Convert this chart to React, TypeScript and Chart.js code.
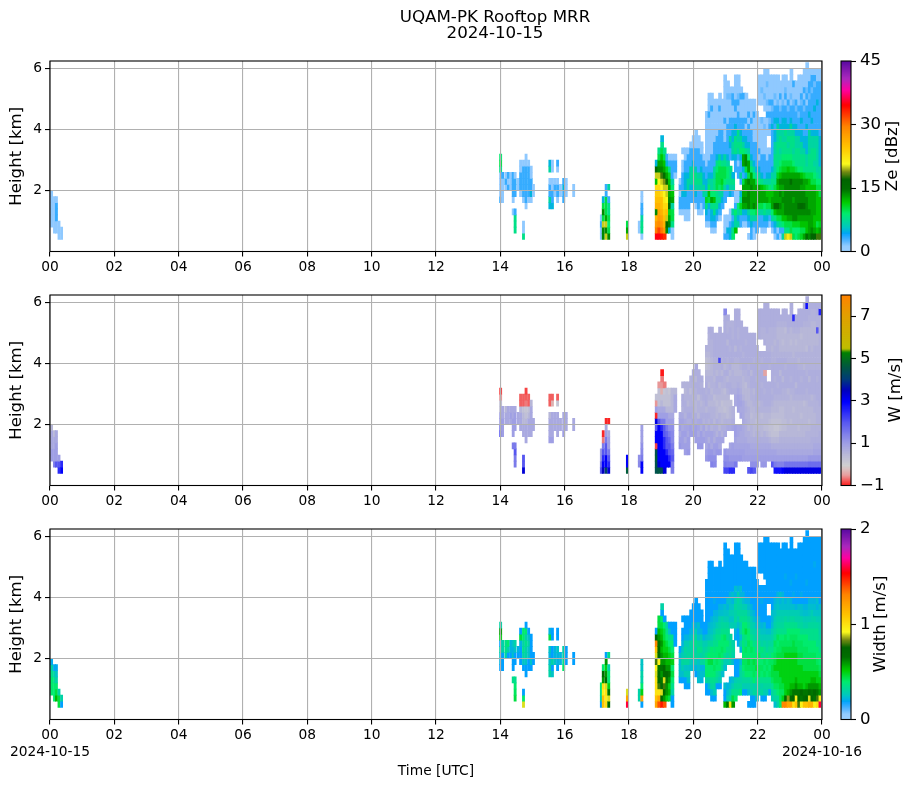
import React, { useEffect, useRef } from "react";
import { Chart, registerables } from "chart.js";

Chart.register(...registerables);

const FONT = "'DejaVu Sans'";
const GATE_BASE_KM = 0.4;
const GATE_KM = 0.2;
const SPARSE_BEFORE_HOUR = 18.7;

// time of each profile, hours UTC
const columnHours = [
  0.05, 0.14, 0.2, 0.28, 0.36,
  14.01, 14.07, 14.17, 14.25, 14.33, 14.4, 14.46, 14.56, 14.63, 14.72, 14.8, 14.88, 14.96, 15.03,
  15.54, 15.62, 15.7, 15.78, 15.87, 15.97, 16.05, 16.28,
  17.14, 17.2, 17.29, 17.37, 17.95, 18.32, 18.4,
  18.86, 18.94, 19.03, 19.11, 19.19, 19.27, 19.35, 19.44, 19.6, 19.68, 19.76, 19.85, 19.93, 20.01, 20.09, 20.17, 20.26, 20.34,
  20.42, 20.5, 20.58, 20.67, 20.75, 20.83, 20.91, 20.99, 21.08, 21.16, 21.24, 21.32, 21.41, 21.49, 21.57, 21.65, 21.73, 21.82,
  21.9, 21.98, 22.06, 22.14, 22.23, 22.31, 22.39, 22.47, 22.55, 22.64, 22.72, 22.8, 22.88, 22.96, 23.05, 23.13, 23.21, 23.29,
  23.37, 23.46, 23.54, 23.62, 23.7, 23.78, 23.87, 23.95,
];

// reflectivity per range gate, bottom gate first (dBZ), holes = no echo
const zeColumns: any[] = [
  [,,1,1,1,1,1,1],[,1,1,1,1,1,1],[,1,1,3,3,3,1],[1,1,1],[1,1],
  [,,,,,,3,1,1,1,1,8,10,9],[,,,,,,1,1,1,1,3],[,,,,,,,,1,3,1],[,,,,,,,,3,1,3],[,,,,,,,,1,1,1],[,,,,1,,1,3,3,3,3],[,8,8,8,3,,,3,3,3,1],[,,,,,,,,1,1],[,,,,,,,1,3,3,3,1,1],[8,1,1,,,,1,3,3,3,3,3,1],[,,,,,1,3,3,3,3,3,3,1,1],[,,,,,,1,3,3,3,3,3,1],[,,,,,,1,5,3,3,1,1],[,,,,,,,1,1],
  [,,,,,5,7,3,3,1,,7,5],[,,,,,5,3,3,1,1,,1,1],[,,,,,,,1,3,1],[,,,,,,1,3,3,1,,1,3],[,,,,,,,1,1],[,,,,,,3,3,5,3],[,,,,,,,1,1,1],[,,,,,,,1,1],
  [1,1,3,1],[14,14,20,10,14,10,5],[20,14,20,13,10,10,10,3,3],[14,10,9,10,8,8,3,,7],[20,13,10],[,1,1],[1,8,8,7,3,3,1,1],
  [35,30,28,26,14,26,25,24,23,12,20,16,5],
  [35,32,29,28,27,26,25,24,23,21,20,14,13,10,8],
  [34,30,28,27,26,25,25,23,21,20,18,14,13,12,10,8,5],
  [33,28,26,25,24,23,22,21,20,19,15,13,12,10,8],
  [,14,16,20,25,23,21,20,20,16,13,11,5,3],
  [,5,14,13,11,16,14,13,13,12,11,8,3,1],
  [1,1,8,10,10,7,13,12,9,7,3,3,3,1],
  [,,,,,,,,,,1,3,3,1],
  [,,,,1,3,3,1,3,1],
  [,,,,1,3,3,5,3,3,3,1,1,,1],
  [,,,1,1,3,3,5,5,5,5,3,3,1,1],
  [,,,1,1,3,3,3,7,7,5,3,3,3,1],
  [,,,,,,3,3,5,7,7,7,3,3,3,1],
  [,,,,,,3,3,5,7,8,7,5,3,3,1,1],
  [,,,,,1,3,5,7,8,8,6,3,3,3,1,1,1],
  [,,,,1,3,3,3,7,8,7,3,3,3,3,1,1],
  [,,,,1,1,3,3,7,8,7,5,3,3,1,1],
  [,,,,,3,3,7,7,5,5,3,3,1],
  [,,1,3,5,8,11,7,5,5,3,3,1,1,1,1,1,1,1,1,1],
  [,,1,3,3,5,10,12,9,7,5,3,3,1,1,1,1,1,1,1,3,1,1,1],
  [,1,3,5,5,8,13,9,7,7,5,3,3,3,1,1,1,1,1,1,1,3,1,1],
  [,1,3,5,8,8,12,9,8,8,7,7,3,3,3,3,1,1,1,1,1,1,1],
  [,,,3,5,8,8,8,10,10,10,9,8,5,3,3,3,1,1,1,1,1,1],
  [,,,1,3,5,8,7,9,10,10,10,9,7,3,3,3,3,1,1,1,3,1,1],
  [,,,,,3,5,7,10,11,10,10,8,5,3,3,3,3,1,1,1,1,1],
  [3,1,1,1,,,3,3,7,9,10,10,8,7,3,3,1,1,1,3,1,1,1,1,1,1,1],
  [3,5,1,1,,,,3,5,8,9,9,7,5,3,3,3,3,3,1,1,1,1,2,1,1],
  [5,5,3,1,1,,,5,7,8,8,8,,3,3,5,7,3,3,3,1,1,1,2,1],
  [9,8,5,3,7,,,3,7,8,5,,,5,7,7,5,5,3,3,1,1,3,3,1],
  [,12,7,7,9,3,1,1,,,,3,3,5,8,8,8,5,5,3,1,3,3,1,1,1,1],
  [,,7,5,7,9,1,1,,,3,3,1,3,7,8,7,8,3,3,3,1,3,2,1,1,1],
  [,,3,3,8,11,8,5,,3,7,3,3,5,9,8,7,5,3,3,1,1,1,3,1],
  [,,1,3,5,13,14,13,13,10,3,5,13,13,9,7,5,3,3,3,1,1,1,3],
  [,,1,3,5,13,14,13,13,13,5,10,14,14,8,5,5,3,1,3,1,1,1,1],
  [1,,3,5,7,14,14,14,13,14,10,13,13,9,7,5,3,3,3,1,3,1,1],
  [3,3,5,7,9,13,13,13,14,13,13,9,7,5,3,3,3,3,1,3,1,1,1],
  [1,1,3,7,9,14,13,13,13,13,9,7,5,3,3,3,1,1,1,1,3,1,1],
  [,3,3,7,10,13,13,13,13,10,7,5,3,3,3,3,1,1,1,1,1],
  [,,3,3,7,10,13,13,13,9,7,5,3,1,3,1,1,1,1,1,,,1,1,1,1,1],
  [,1,3,3,7,10,13,13,12,8,5,3,3,3,1,1,1,1,1,2,,,1,1,2,1,1],
  [,1,3,5,8,9,13,13,11,7,3,3,3,3,1,1,1,1,2,1,,1,1,2,1,1,1,1],
  [,,3,5,7,10,13,12,10,7,5,3,3,1,1,,,1,1,1,3,1,2,1,1,2,1,1],
  [,,1,3,7,10,12,12,9,7,5,3,3,3,1,,,1,3,2,3,1,3,1,1,1,1],
  [,1,3,7,9,13,13,12,8,8,7,5,3,3,3,3,3,3,5,3,3,2,3,1,1,1,1],
  [1,3,5,8,12,16,13,13,10,8,7,7,8,8,7,7,5,5,3,5,3,3,1,2,1,1,1],
  [3,1,7,10,13,16,13,13,12,13,11,9,8,8,8,8,7,7,7,5,3,3,2,1,1,1,1],
  [1,3,8,10,13,14,13,14,13,14,12,10,9,8,7,8,8,7,5,3,3,2,1,3,1,1],
  [7,3,9,12,13,13,14,13,13,14,13,11,10,9,8,8,7,7,5,5,3,3,2,1,1,1,1],
  [20,8,10,12,14,14,14,14,14,14,13,11,10,9,8,8,7,8,5,5,3,3,1,3,2,1,1],
  [22,8,10,13,14,14,14,14,14,14,13,12,10,9,8,7,8,7,5,3,3,2,3,1,1,1],
  [20,10,10,13,14,14,14,14,14,15,13,11,10,9,8,8,8,7,7,5,3,3,1,2,1,1,1,1],
  [10,9,11,14,14,14,13,14,14,14,13,11,9,8,7,8,8,7,5,3,3,3,2,1,1,3],
  [9,9,11,14,14,14,14,14,14,14,13,10,8,8,8,7,7,5,5,3,3,2,3,1,1,1],
  [10,9,11,13,14,15,14,14,14,14,13,9,8,8,8,7,7,5,3,3,2,3,1,1,1,1,1],
  [11,10,12,13,14,16,14,14,13,14,12,9,8,8,7,7,5,5,3,5,3,3,2,3,1,1,1],
  [13,10,12,13,14,15,14,14,13,13,11,8,8,8,7,5,5,3,3,3,3,2,3,1,3,1,1,1],
  [15,12,12,13,14,14,14,13,12,13,10,8,7,7,5,5,5,3,5,3,3,3,1,3,2,1,1,1,1],
  [14,13,13,13,14,13,13,13,12,12,10,8,8,8,7,7,7,7,3,3,5,3,3,2,3,3,1,1],
  [17,14,13,13,13,13,13,13,12,10,10,8,8,8,8,7,7,5,3,5,3,3,3,3,2,3,3,1],
  [17,13,12,12,13,13,13,13,12,10,9,8,7,8,8,7,7,5,3,3,3,5,3,3,3,2,3,1],
  [18,12,10,12,12,12,12,12,10,9,8,7,7,7,7,7,7,5,3,3,3,3,5,3,3,3,1,1],
  [18,13,11,12,12,12,12,10,10,9,7,7,5,5,5,5,5,3,3,3,3,3,3,3,3,3,1,1],
];

// mean Doppler velocity per gate (m/s)
const wColumns: any[] = [
  [,,1,1,.8,.8,.8,.5],[,1.5,1,1,.8,.8,.5],[,2,1,1,1,.8,.8],[2.5,2,1],[3,2.5],
  [,,,,,,2,1.5,1,1,.3,.3,-.5,-.8],[,,,,,,1,1,1,.8,.8],[,,,,,,,,.8,.8,.5],[,,,,,,,,.8,.8,.8],[,,,,,,,,.8,1,.8],[,,,,1.5,,1,1,1,.8,.8],[,1.5,1.5,2,1.5,,,1,1,1,.8],[,,,,,,,,.8,.8],[,,,,,,,.8,.8,.8,.5,-.7,-.7],[3.3,2,2,,,,.8,.8,.5,.5,.3,-.7,-.7],[,,,,,.8,.8,.8,.5,.3,.2,-.6,-.7,-.8],[,,,,,,.8,.8,.8,.5,.3,-.7,-.7],[,,,,,,.8,.8,.8,.8,.8,.5],[,,,,,,,.8,.8],
  [,,,,,1,.8,.8,.8,.5,,-.7,-.7],[,,,,,1,.8,.8,.8,.8,,-.3,-.7],[,,,,,,,.8,.8,.8],[,,,,,,.8,.8,.8,.8,,.2,-.7],[,,,,,,,.8,.8],[,,,,,,1,.8,.8,.8],[,,,,,,,.8,.8,.8],[,,,,,,,.8,.8],
  [2,1.5,1,1],[3.5,3,2.5,2,1.5,-.6,-.9],[4.2,3,3,2,2,1.5,1,.8,-.9],[3.3,2.5,2,1.5,1,1,.8,,-.9],[4.7,3,3],[,1.3,1.2],[3,3,1.5,1.3,1.2,1,1,1],
  [4.5,4.5,4.7,4.5,-.8,3,3,2,3.2,-.9,1,-.5,.3],
  [4.6,3.3,3,3,3,3,3,3,2,1,.8,.3,.3,.3,-.5],
  [4.4,3,3,3,3,3,3,2.5,1.5,1,.8,.5,.3,-.3,-.5,-.6,-.95],
  [3.3,3,3,3,2.5,2.5,2,2,1.5,1,.8,.3,.3,.2,-.6],
  [,3,3,2.5,2,2,1.8,1.5,1,1,.5,.3,.3,.3],
  [,3,2.5,2,2,1.8,1.5,1.2,1,.8,.5,.3,.3,.2],
  [1.5,1.5,2,1.8,1.5,1.3,1.3,1.2,1,.8,.5,.5,.5,.5],
  [,,,,,,,,,,.8,.8,.8,.5],
  [,,,,1.1,1,.8,1,.9,.8],
  [,,,,1,1,1,.8,.9,.8,.6,.7,.7,,.6],
  [,,,1,1,.8,1,.9,.8,.6,.7,.7,.6,.5,.6],
  [,,,1.1,1,1,.8,.9,.7,.8,.7,.5,.6,.6,.6],
  [,,,,,,1,1,.7,.8,.7,.6,.6,.4,.6,.6],
  [,,,,,,1,.8,.9,.6,.7,.6,.5,.6,.6,.7,.7],
  [,,,,,1,1,1,.7,.7,.5,.5,.6,.6,.7,.5,.7,.8],
  [,,,,1.1,1,.8,.9,.8,.5,.6,.6,.4,.7,.7,.7,.7],
  [,,,,1.1,1,1,.7,.8,.7,.6,.5,.6,.7,.6,.7],
  [,,,,,1,.8,.9,.6,.7,.6,.6,.7,.7],
  [,,1.1,1,.8,.9,.9,.6,.7,.7,.5,.7,.7,.6,.7,.6,.5,.3,.3,.5,.6],
  [,,1.2,1.1,1,.7,.9,.8,.6,.7,.6,.5,.6,.7,.5,.6,.5,.4,.4,.5,.6,.6,.6,.7],
  [,1.4,1.2,1.1,.8,.9,.9,.6,.7,.6,.6,.5,.6,.5,.6,.6,.5,.5,.5,.6,.6,.6,.7,.7],
  [,1.3,1.2,1,1,.7,.8,.7,.5,.6,.6,.5,.4,.6,.6,.5,.6,.6,.6,.7,.7,.7,.7],
  [,,,1.1,1,.9,.6,.7,.7,.5,.5,.4,.5,.6,.7,.7,.5,.6,.6,.7,.7,.7,.7],
  [,,,1.1,.8,.9,.8,.5,.6,.6,.4,.5,.5,.6,.5,.7,.6,.6,2.2,.7,.7,.7,.7,.7],
  [,,,,,.9,.6,.7,.5,.5,.4,.3,.5,.5,.6,.7,.5,.7,.6,.7,.7,.7,.7],
  [2.2,1.4,1.2,1.1,,,.8,.7,.6,.5,.3,.4,.5,.4,.6,.6,.7,.5,.7,.7,.7,.7,.7,.7,.7,.7,1.3],
  [2.2,1.3,1.2,1,,,,.8,.6,.4,.4,.4,.5,.6,.7,.5,.7,.6,.6,.7,.7,.5,.7,.6,.6,.7],
  [2.5,1.3,1.1,1,.9,,,.8,.6,.5,.5,.4,,.7,.7,.6,.5,.7,.7,.7,.6,.7,.7,.7,.6],
  [2.5,1.3,1.1,1,1,,,.9,.7,.6,.6,,,.7,.6,.6,.6,.5,.7,.7,.7,.7,.6,.6,.6],
  [,1.5,1.1,1,.9,.9,1,1,,,,.8,.8,.7,.6,.6,.5,.5,.6,.7,.5,.7,.7,.7,.7,.7,.7],
  [,,1.1,1,.9,.8,.9,.9,,,.9,.9,.9,.8,.7,.6,.5,.5,.6,.7,.7,.7,.6,.6,.7,.7,.7],
  [,,1.1,1,.9,.8,.8,.9,,.9,.8,.9,.8,.7,.6,.6,.5,.6,.7,.7,.6,.7,.7,.7,.7],
  [,,1,1,.9,.8,.8,.8,.8,.8,.8,.8,.6,.5,.5,.5,.6,.7,.7,.6,.7,.7,.7,.7],
  [,,1,.9,.9,.8,.7,.7,.7,.6,.7,.6,.5,.5,.4,.6,.6,.7,.7,.7,.7,.6,.7,.7],
  [2,,1,.9,.9,.7,.7,.5,.6,.6,.6,.5,.5,.5,.6,.6,.7,.6,.7,.7,.7,.7,.7],
  [2.2,1.2,1,.9,.8,.7,.6,.6,.5,.4,.5,.5,.6,.6,.7,.7,.5,.7,.7,.7,.7,.7,.7],
  [2,1.2,1,.9,.8,.7,.5,.5,.5,.5,.5,.6,.6,.5,.7,.7,.7,.7,.6,.7,.7,.7,.7],
  [,1.2,1,.9,.8,.7,.6,.5,.4,.5,.6,.6,.7,.7,.7,.6,.7,.7,.7,.7,.7],
  [,,1,.9,.8,.7,.6,.5,.5,.5,.6,.5,.7,.7,.7,.7,.7,.6,.7,.7,,,.7,.7,.7,.7,.7],
  [,1.1,1,.9,.8,.7,.5,.5,.5,.4,.6,.6,.7,.7,.6,.7,.7,.7,.6,.7,,,.6,.6,.7,.7,.7],
  [,1.1,1,.9,.8,.7,.6,.4,.5,.5,.6,.7,.7,.6,.7,.7,-.4,.7,.7,.7,,.7,.6,.6,.7,.7,.7,.7],
  [,,1,.9,.8,.7,.5,.4,.5,.5,.6,.7,.7,.7,.7,,,.7,.7,.7,.6,.6,.6,.7,.7,.7,.7,.7],
  [,,1,.9,.8,.6,.4,.3,.4,.5,.6,.7,.7,.7,.7,,,.6,.7,.7,.6,.6,.6,.6,.7,.7,.7],
  [,2,1,.9,.7,.5,.3,.3,.3,.4,.5,.6,.7,.6,.7,.7,.7,.7,.6,.6,.5,.6,.6,.6,.7,.7,.7],
  [2.8,1.5,1,.9,.7,.5,.3,.2,.3,.4,.5,.5,.6,.7,.7,.6,.7,.7,.6,.6,.6,.5,.6,.6,.7,.7,.7],
  [2.8,1.4,1,.8,.7,.5,.3,.2,.3,.4,.5,.5,.6,.7,.6,.7,.7,.7,.7,.6,.6,.6,.5,.5,.6,.7,.7],
  [2.8,1.4,1,.8,.7,.6,.5,.3,.3,.4,.4,.5,.6,.7,.7,.7,.5,.7,.7,.6,.5,.5,.5,.5,.6,.7],
  [3,1.4,1,.8,.7,.6,.5,.4,.4,.4,.4,.5,.6,.6,.7,.5,.7,.7,.7,.6,.5,.4,.5,.5,.6,.7,.7],
  [3.2,1.6,1,.8,.7,.6,.5,.4,.4,.5,.5,.5,.6,.6,.7,.7,.7,.6,.7,.6,.5,.5,.5,.4,.6,.7,.7],
  [3.2,1.6,1,.8,.7,.6,.5,.5,.5,.5,.5,.5,.6,.5,.7,.7,.7,.7,.6,.6,.5,.5,.5,.6,.7,.7],
  [3.2,1.6,1,.8,.7,.6,.5,.5,.4,.5,.5,.5,.5,.6,.7,.6,.7,.7,.6,.6,.5,.4,.5,.5,.7,.7,.7,.7],
  [3.2,1.6,1,.8,.7,.6,.5,.5,.5,.5,.4,.5,.6,.6,.7,.7,.7,.7,.6,.5,.5,.5,.5,.6,.7,2.5],
  [3.2,1.6,1,.8,.7,.6,.5,.5,.5,.5,.5,.5,.6,.7,.5,.7,.7,.7,.6,.6,.5,.4,.5,.6,.7,.7],
  [3.2,1.6,1,.8,.7,.6,.5,.4,.5,.5,.5,.5,.6,.7,.7,.7,.7,.6,.5,.6,.5,.5,.5,.6,.7,.7,.7],
  [3.2,1.6,1,.8,.7,.6,.5,.5,.5,.4,.5,.5,.6,.7,.7,.6,.7,.6,.6,.6,.5,.5,.4,.5,.7,.7,.7],
  [3.2,1.6,1,.8,.7,.6,.5,.5,.5,.5,.5,.4,.6,.7,.7,.7,.7,.5,.6,.6,.5,.5,.5,.5,.6,.7,.7,.7],
  [3.2,1.6,1,.8,.7,.6,.6,.5,.5,.5,.5,.5,.6,.6,.7,.7,.6,.6,.6,.6,.4,.5,.5,.5,.6,.7,.7,2.8,.7],
  [3.2,1.7,1.1,.8,.7,.6,.6,.5,.4,.5,.5,.6,.6,.7,.7,.5,.7,.6,.6,.6,.6,.5,.5,.5,.6,.6,.7,.7],
  [3.2,1.7,1.1,.8,.7,.7,.6,.6,.5,.5,.5,.6,.5,.7,.7,.7,.7,.6,.6,.6,.5,.5,.5,.5,.5,.6,.6,.7],
  [3.2,1.7,1.1,.9,.8,.7,.6,.6,.5,.5,.6,.6,.6,.7,.7,.7,.7,.6,.6,.6,.6,.5,.5,.5,.5,.6,.6,.7],
  [3.2,1.7,1.1,.9,.8,.7,.6,.6,.6,.6,.6,.6,.7,.7,.7,.6,.7,.6,.6,.6,.6,.5,.5,2,.6,.6,.7,.7],
  [3.2,1.7,1.1,.9,.8,.7,.7,.6,.6,.6,.6,.7,.7,.7,.7,.7,.7,.6,.6,.6,.6,.6,.6,.6,.6,.6,2.6,.7],
];

// spectral width per gate (m/s)
const widthColumns: any[] = [
  [,,.4,.4,.4,.35,.3,.2],[,.4,.4,.4,.35,.3,.2],[,.55,.45,.4,.3,.25,.2],[.45,.45,.3],[.18,.3],
  [,,,,,,.18,.22,.25,.3,.18,.5,.6,.3],[,,,,,,.18,.18,.18,.3,.3],[,,,,,,,,.3,.35,.35],[,,,,,,,,.18,.3,.4],[,,,,,,,,.18,.22,.22],[,,,,.35,,.18,.18,.25,.22,.25],[,.45,.42,.4,.35,,,.18,.18,.25,.3],[,,,,,,,,.18,.22],[,,,,,,,.18,.18,.18,.22,.45,.18],[.9,.4,.18,,,,.18,.25,.3,.35,.3,.4,.4],[,,,,,.18,.18,.25,.3,.3,.35,.3,.4,.18],[,,,,,,.18,.18,.25,.25,.3,.25,.18],[,,,,,,.18,.25,.18,.18,.18,.18],[,,,,,,,.18,.18],
  [,,,,,.3,.3,.25,.22,.25,,.45,.22],[,,,,,.25,.18,.3,.18,.18,,.18,.18],[,,,,,,,.25,.22,.22],[,,,,,,.18,.22,.22,.25,,.18,.18],[,,,,,,,.22,.22],[,,,,,,.4,.35,.3,.3],[,,,,,,,.18,.18,.18],[,,,,,,,.18,.18],
  [.18,.3,.35,.4],[1.1,1.1,.95,1,.6,.7,.4],[1,.95,1,.9,.7,.6,.5,.6,.18],[.7,.9,.65,.5,.4,.4,.3,,.35],[1.6,1.2,.9],[,.3,.3],[.18,1.2,.5,.4,.3,.3,.25,.25],
  [1.2,1.1,1,1,1,.9,.95,.8,.9,1.1,1.3,.7,.18],
  [1.4,1.2,1,.8,.7,.7,.65,.95,.7,.7,.65,.6,.55,.45,.45],
  [1.5,.7,.9,.7,.65,.6,.65,.6,.6,.55,.6,.55,.5,.45,.4,.18,.3],
  [1.4,.6,.7,.8,.9,.7,.7,.6,.55,.5,.5,.45,.45,.4,.18],
  [,.5,.6,.6,.65,.7,.6,.55,.55,.5,.45,.4,.35,.3],
  [,.45,.55,.5,.6,.65,.6,.55,.5,.45,.4,.35,.25,.18],
  [.18,.18,.3,.35,.4,.45,.4,.5,.45,.4,.4,.35,.18,.18],
  [,,,,,,,,,,.18,.18,.18,.18],
  [,,,,.18,.24,.24,.24,.24,.18],
  [,,,,.18,.24,.28,.32,.28,.25,.22,.18,.18,,.18],
  [,,,.18,.18,.28,.25,.32,.3,.32,.28,.22,.18,.18,.18],
  [,,,.18,.24,.28,.25,.32,.32,.3,.28,.22,.18,.18,.18],
  [,,,,,,.24,.28,.32,.3,.32,.24,.22,.18,.18,.18],
  [,,,,,,.24,.25,.32,.32,.3,.28,.22,.24,.18,.18,.18],
  [,,,,,.18,.22,.28,.32,.3,.35,.32,.28,.22,.18,.18,.18,.18],
  [,,,,.24,.22,.24,.25,.32,.35,.32,.25,.22,.24,.18,.18,.18],
  [,,,,.22,.24,.22,.32,.3,.35,.32,.28,.22,.18,.18,.18],
  [,,,,,.24,.22,.32,.32,.3,.28,.22,.18,.18],
  [,,.18,.18,.32,.4,.4,.4,.35,.32,.28,.24,.18,.18,.18,.18,.18,.18,.18,.18,.18],
  [,,.18,.24,.32,.4,.4,.45,.4,.35,.32,.25,.24,.22,.18,.18,.18,.18,.18,.18,.18,.18,.18,.18],
  [,.18,.24,.32,.35,.4,.4,.45,.4,.4,.32,.28,.25,.24,.22,.18,.18,.18,.18,.18,.18,.18,.18,.18],
  [,.18,.28,.32,.35,.4,.42,.4,.4,.38,.35,.32,.28,.25,.24,.22,.18,.2,.18,.18,.18,.18,.18],
  [,,,.18,.32,.35,.4,.42,.4,.4,.35,.35,.32,.28,.24,.22,.18,.18,.18,.18,.18,.18,.18],
  [,,,.18,.28,.32,.4,.4,.42,.4,.4,.35,.32,.3,.28,.24,.22,.18,.18,.18,.18,.18,.18,.18],
  [,,,,,.24,.32,.35,.4,.42,.4,.4,.35,.32,.3,.24,.22,.18,.18,.18,.18,.18,.18],
  [.55,.18,.18,.24,,,.24,.28,.35,.4,.4,.42,.35,.32,.28,.25,.24,.18,.18,.18,.18,.18,.18,.18,.18,.18,.18],
  [.65,.28,.24,.22,,,,.28,.32,.35,.4,.35,.35,.32,.28,.25,.22,.24,.18,.18,.18,.18,.18,.18,.18,.18],
  [1,.32,.28,.24,.22,,,.3,.35,.35,.35,.32,,.28,.25,.28,.25,.24,.22,.18,.18,.18,.18,.18,.18],
  [.6,.45,.35,.28,.24,,,.24,.3,.32,.3,,,.28,.25,.28,.25,.22,.24,.18,.18,.18,.18,.18,.18],
  [,.4,.35,.32,.28,.18,.18,.18,,,,.2,.22,.28,.32,.3,.32,.28,.22,.24,.18,.18,.18,.18,.18,.18,.18],
  [,,.35,.32,.3,.18,.18,.18,,,.2,.18,.18,.24,.28,.32,.3,.32,.28,.22,.18,.18,.18,.18,.18,.18,.18],
  [,,.4,.32,.3,.32,.3,.24,,.22,.3,.24,.32,.3,.35,.32,.3,.28,.22,.24,.18,.18,.18,.18,.18],
  [,,.18,.28,.32,.35,.4,.42,.4,.4,.38,.35,.4,.4,.35,.32,.28,.24,.22,.18,.18,.18,.18,.18],
  [,,.18,.28,.32,.4,.42,.42,.4,.42,.35,.38,.45,.4,.35,.32,.28,.22,.18,.18,.18,.18,.18,.18],
  [.18,,.24,.28,.32,.4,.42,.45,.4,.4,.42,.4,.4,.35,.32,.28,.24,.22,.18,.18,.18,.18,.18],
  [.18,.18,.28,.32,.35,.4,.42,.42,.4,.42,.4,.35,.32,.3,.28,.24,.22,.18,.18,.18,.18,.18,.18],
  [.18,.18,.32,.3,.4,.42,.42,.45,.4,.4,.35,.32,.3,.28,.24,.22,.18,.18,.18,.18,.18,.18,.18],
  [,.24,.32,.3,.35,.4,.45,.42,.4,.35,.35,.3,.28,.24,.22,.18,.18,.18,.18,.18,.18],
  [,,.3,.32,.35,.42,.42,.4,.42,.35,.35,.3,.28,.24,.22,.18,.18,.18,.18,.18,,,.18,.18,.18,.18,.18],
  [,.18,.32,.3,.35,.4,.42,.4,.35,.38,.3,.28,.25,.22,.18,.18,.18,.2,.18,.18,,,.18,.18,.18,.18,.18],
  [,.18,.28,.32,.35,.42,.4,.42,.35,.35,.32,.28,.25,.24,.18,.18,.18,.18,.18,.18,,.18,.18,.18,.18,.18,.18,.18],
  [,,.28,.32,.35,.4,.42,.4,.38,.32,.3,.28,.24,.18,.18,,,.18,.18,.18,.18,.18,.18,.18,.18,.18,.18,.18],
  [,,.18,.32,.35,.42,.4,.42,.35,.35,.32,.28,.24,.18,.18,,,.18,.18,.18,.18,.18,.18,.18,.18,.18,.18],
  [,.28,.32,.35,.42,.45,.45,.42,.4,.35,.32,.3,.28,.24,.22,.24,.18,.18,.18,.18,.18,.18,.18,.18,.18,.18,.18],
  [.24,.32,.35,.42,.45,.45,.5,.45,.42,.4,.42,.35,.32,.3,.28,.25,.24,.22,.18,.18,.18,.18,.18,.18,.18,.18,.18],
  [.3,.32,.4,.42,.45,.45,.5,.5,.45,.42,.4,.42,.35,.32,.3,.28,.25,.24,.22,.18,.18,.18,.18,.18,.18,.18,.18],
  [.4,.42,.42,.45,.45,.5,.5,.5,.45,.42,.42,.4,.35,.32,.3,.28,.24,.22,.24,.18,.18,.18,.18,.18,.18,.18],
  [1.3,.5,.42,.45,.5,.5,.5,.5,.45,.45,.42,.4,.35,.32,.3,.28,.24,.24,.22,.18,.18,.18,.18,.18,.18,.18,.18],
  [1.3,.7,.5,.5,.5,.5,.5,.5,.5,.45,.42,.42,.35,.35,.32,.28,.24,.22,.18,.18,.18,.2,.18,.18,.18,.18,.18],
  [1.2,.85,.55,.5,.5,.5,.5,.5,.5,.45,.42,.4,.4,.35,.3,.28,.24,.24,.18,.18,.18,.18,.18,.18,.18,.18],
  [1.2,.7,.6,.55,.5,.5,.5,.5,.5,.45,.42,.42,.4,.35,.32,.28,.24,.22,.18,.18,.2,.18,.18,.18,.18,.18,.18,.18],
  [1,.75,.65,.55,.5,.5,.5,.5,.5,.45,.45,.42,.4,.35,.32,.28,.24,.18,.2,.18,.18,.18,.18,.18,.18,.18],
  [1.1,.95,.65,.6,.55,.5,.5,.5,.5,.45,.42,.42,.4,.35,.3,.28,.22,.18,.18,.18,.18,.2,.18,.18,.18,.18],
  [.8,.7,.65,.55,.5,.5,.5,.45,.45,.42,.42,.4,.4,.32,.3,.28,.24,.18,.18,.18,.18,.18,.18,.18,.18,.18,.18],
  [.95,.65,.7,.55,.5,.5,.5,.45,.45,.42,.42,.4,.35,.32,.3,.25,.24,.18,.2,.18,.18,.18,.18,.18,.18,.18,.18],
  [1.1,.7,.65,.5,.5,.5,.45,.45,.42,.42,.4,.4,.35,.3,.28,.24,.22,.18,.18,.18,.18,.18,.18,.18,.18,.18,.18,.18],
  [1.1,.75,.65,.55,.5,.5,.45,.45,.42,.42,.4,.4,.35,.3,.28,.24,.22,.18,.18,.18,.2,.18,.18,.18,.18,.18,.18,.18,.18],
  [1.15,.9,.7,.6,.5,.5,.45,.45,.42,.4,.4,.35,.35,.32,.28,.25,.24,.22,.18,.18,.18,.18,.18,.18,.18,.18,.18,.18],
  [1.15,.7,.65,.6,.55,.5,.45,.45,.42,.4,.4,.35,.35,.32,.3,.28,.24,.22,.18,.18,.18,.18,.18,.18,.18,.18,.18,.18],
  [.95,.65,.7,.6,.55,.5,.45,.45,.42,.4,.4,.35,.35,.32,.3,.25,.24,.22,.18,.18,.18,.18,.18,.2,.18,.18,.18,.18],
  [1,.8,.65,.6,.5,.5,.45,.42,.4,.4,.35,.35,.35,.32,.28,.25,.22,.24,.18,.18,.18,.18,.18,.18,.18,.18,.18,.18],
  [1.6,.95,.6,.55,.5,.45,.42,.4,.4,.35,.35,.32,.3,.3,.28,.25,.24,.18,.18,.18,.18,.18,.18,.18,.18,.18,.18,.18],
];

const yTicks = [2, 4, 6];
const xTicks = [0, 2, 4, 6, 8, 10, 12, 14, 16, 18, 20, 22, 24];

// colormap anchors [fraction, r, g, b]
const precipStops = [
  [0, 150, 205, 255], [0.03, 140, 200, 255], [0.06, 70, 175, 255], [0.09, 0, 160, 255], [0.13, 0, 200, 190], [0.2, 0, 235, 110], [0.26, 0, 205, 0],
  [0.33, 0, 110, 0], [0.38, 0, 100, 0], [0.42, 120, 140, 20], [0.46, 250, 250, 30], [0.55, 255, 195, 0], [0.66, 255, 130, 0],
  [0.77, 255, 0, 0], [0.85, 255, 0, 160], [0.91, 170, 40, 190], [1, 90, 10, 160],
];
const velocityStops = [
  [0, 255, 10, 10], [0.055, 232, 150, 150], [0.105, 208, 208, 208], [0.165, 184, 184, 216], [0.22, 160, 160, 228], [0.33, 90, 90, 240],
  [0.44, 0, 0, 255], [0.5, 0, 0, 190], [0.56, 0, 60, 120], [0.63, 0, 90, 60], [0.7, 0, 130, 0], [0.72, 190, 190, 0],
  [0.89, 225, 160, 0], [1, 255, 130, 0],
];

const colorAt = (stops: number[][], f: number) => {
  const t = Math.max(0, Math.min(1, f));
  let i = 0;
  while (i < stops.length - 2 && t > stops[i + 1][0]) i++;
  const a = stops[i], b = stops[i + 1];
  const u = (t - a[0]) / (b[0] - a[0]);
  const m = (k: number) => Math.round(a[k] + (b[k] - a[k]) * u);
  return `rgb(${m(1)},${m(2)},${m(3)})`;
};

const frame = {
  id: "frame",
  afterDraw(chart: any) {
    const { ctx, chartArea: a } = chart;
    ctx.save();
    ctx.strokeStyle = "#000";
    ctx.lineWidth = 1.1;
    ctx.strokeRect(a.left, a.top, a.right - a.left, a.bottom - a.top);
    ctx.restore();
  },
};

const textLayer = (items: any[]) => ({
  id: "textLayer",
  afterDraw(chart: any) {
    const { ctx } = chart;
    for (const it of items) {
      ctx.save();
      ctx.translate(it.x, it.y);
      if (it.rotate) ctx.rotate(it.rotate);
      ctx.font = `${it.size}px ${FONT}`;
      ctx.fillStyle = "#000";
      ctx.textAlign = "center";
      ctx.textBaseline = "middle";
      ctx.fillText(it.text, 0, 0);
      ctx.restore();
    }
  },
});

const fixedTicks = (vals: number[]) => (s: any) => {
  s.ticks = vals.map((value) => ({ value }));
};

function buildPanel(canvas: HTMLCanvasElement, p: any) {
  const thinPts: any[] = [], thinCols: string[] = [];
  const widePts: any[] = [], wideCols: string[] = [];
  p.columns.forEach((col: any[], c: number) => {
    const thin = columnHours[c] < SPARSE_BEFORE_HOUR;
    for (let g = 0; g < col.length; g++) {
      const v = col[g];
      if (v === undefined || v === null) continue;
      const lo = GATE_BASE_KM + g * GATE_KM;
      (thin ? thinPts : widePts).push({ x: columnHours[c], y: [lo, lo + GATE_KM] });
      (thin ? thinCols : wideCols).push(colorAt(p.stops, (v - p.min) / (p.max - p.min)));
    }
  });
  return new Chart(canvas, {
    type: "bar",
    data: {
      datasets: [
        { data: thinPts, backgroundColor: thinCols, borderWidth: 0, barThickness: 2.2, grouped: false },
        { data: widePts, backgroundColor: wideCols, borderWidth: 0, barThickness: 3, grouped: false },
      ] as any,
    },
    plugins: [frame, textLayer(p.texts || [])],
    options: {
      animation: false,
      responsive: false,
      devicePixelRatio: 1,
      layout: { padding: { top: p.padTop, right: p.padRight, bottom: 0, left: 0 } },
      plugins: { legend: { display: false }, tooltip: { enabled: false } },
      scales: {
        x: {
          type: "linear",
          offset: false,
          min: 0,
          max: 24,
          afterBuildTicks: fixedTicks(xTicks),
          afterFit: (s: any) => { s.height = p.axisH; },
          grid: { offset: false, color: "#b0b0b0", lineWidth: 1.1, tickColor: "#000", tickWidth: 1.1, tickLength: 5, z: 1 },
          border: { display: false },
          ticks: {
            autoSkip: false,
            maxRotation: 0,
            padding: 3,
            color: "#000",
            font: { family: FONT, size: 13.8 },
            callback: (v: any) => {
              const lab = String(v % 24).padStart(2, "0");
              if (p.offsets && v === 0) return [lab, p.offsets[0]];
              if (p.offsets && v === 24) return [lab, p.offsets[1]];
              return lab;
            },
          },
          title: p.xTitle
            ? { display: true, text: p.xTitle, color: "#000", font: { family: FONT, size: 13.8 }, padding: { top: 3, bottom: 0 } }
            : { display: false },
        },
        y: {
          type: "linear",
          min: 0,
          max: 6.25,
          afterBuildTicks: fixedTicks(yTicks),
          afterFit: (s: any) => { s.width = 50; },
          grid: { color: "#b0b0b0", lineWidth: 1.1, tickColor: "#000", tickWidth: 1.1, tickLength: 5, z: 1 },
          border: { display: false },
          ticks: { padding: 3, color: "#000", font: { family: FONT, size: 13.8 } },
          title: { display: true, text: "Height [km]", color: "#000", font: { family: FONT, size: 16.6 }, padding: { top: 7, bottom: 0 } },
        },
      },
    } as any,
  });
}

function buildBar(canvas: HTMLCanvasElement, p: any) {
  const STEPS = 190;
  const pts: any[] = [];
  const cols: string[] = [];
  for (let i = 0; i < STEPS; i++) {
    const a = p.min + ((p.max - p.min) * i) / STEPS;
    const b = p.min + ((p.max - p.min) * (i + 1)) / STEPS;
    pts.push({ x: 0.5, y: [a, b] });
    cols.push(colorAt(p.stops, (i + 0.5) / STEPS));
  }
  return new Chart(canvas, {
    type: "bar",
    data: { datasets: [{ data: pts, backgroundColor: cols, borderWidth: 0, barThickness: 10 } as any] },
    plugins: [frame, textLayer([{ text: p.label, x: p.labelX, y: p.labelY, size: 16.6, rotate: -Math.PI / 2 }])],
    options: {
      animation: false,
      responsive: false,
      devicePixelRatio: 1,
      layout: { padding: { top: p.padTop, left: 9, right: 0, bottom: p.axisH } },
      plugins: { legend: { display: false }, tooltip: { enabled: false } },
      scales: {
        x: { type: "linear", offset: false, min: 0, max: 1, display: false },
        y: {
          type: "linear",
          position: "right",
          min: p.min,
          max: p.max,
          afterBuildTicks: fixedTicks(p.ticks),
          afterFit: (s: any) => { s.width = 63; },
          grid: { drawOnChartArea: false, tickColor: "#000", tickWidth: 1.1, tickLength: 5 },
          border: { display: false },
          ticks: {
            padding: 4,
            color: "#000",
            font: { family: FONT, size: 16.6 },
            callback: (v: any) => String(v).replace("-", "\u2212"),
          },
        },
      },
    } as any,
  });
}

const CANVAS_W = 884;
const panels = [
  {
    top: 0, height: 275, padTop: 61, axisH: 23.5, columns: zeColumns, stops: precipStops, min: 0, max: 45,
    ticks: [0, 15, 30, 45], label: "Ze [dBz]", labelX: 61, labelY: 156,
    texts: [
      { text: "UQAM-PK Rooftop MRR", x: 495, y: 17.5, size: 16.7 },
      { text: "2024-10-15", x: 495, y: 34, size: 16.7 },
    ],
  },
  { top: 275, height: 234, padTop: 20, axisH: 23.5, columns: wColumns, stops: velocityStops, min: -1, max: 8, ticks: [-1, 1, 3, 5, 7], label: "W [m/s]", labelX: 64, labelY: 115 },
  {
    top: 509, height: 271, padTop: 20, axisH: 60.5, columns: widthColumns, stops: precipStops, min: 0, max: 2,
    ticks: [0, 1, 2], label: "Width [m/s]", labelX: 49, labelY: 115,
    offsets: ["2024-10-15", "2024-10-16"], xTitle: "Time [UTC]",
  },
];

export default function App() {
  const mainRefs = useRef<any[]>([]);
  const barRefs = useRef<any[]>([]);
  useEffect(() => {
    const charts = panels.flatMap((p, i) => [
      buildPanel(mainRefs.current[i], { ...p, padRight: CANVAS_W - 822 }),
      buildBar(barRefs.current[i], p),
    ]);
    return () => charts.forEach((c) => c.destroy());
  }, []);
  return (
    <div style={{ position: "absolute", left: 0, top: 0, width: 914, height: 788, background: "#fff", overflow: "hidden" }}>
      {panels.map((p, i) => (
        <React.Fragment key={i}>
          <canvas
            ref={(el) => { mainRefs.current[i] = el; }}
            width={CANVAS_W}
            height={p.height}
            style={{ position: "absolute", left: 0, top: p.top, width: CANVAS_W, height: p.height }}
          />
          <canvas
            ref={(el) => { barRefs.current[i] = el; }}
            width={82}
            height={p.height}
            style={{ position: "absolute", left: 832, top: p.top, width: 82, height: p.height }}
          />
        </React.Fragment>
      ))}
    </div>
  );
}
